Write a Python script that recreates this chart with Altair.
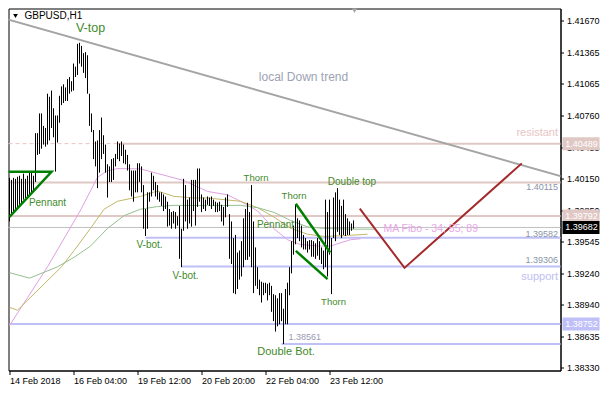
import altair as alt
import pandas as pd

# ---------------- data ----------------
symbol = "GBPUSD,H1"

bar_high = [
    1.4016, 1.4014, 1.4016, 1.4015, 1.4017, 1.4018, 1.4015, 1.4020, 1.4015, 1.4018,
    1.4021, 1.4021, 1.4018, 1.4059, 1.4059, 1.4078, 1.4078, 1.4066, 1.4064, 1.4097,
    1.4094, 1.4100, 1.4083, 1.4076, 1.4076, 1.4095, 1.4104, 1.4106, 1.4103, 1.4111,
    1.4113, 1.4109, 1.4126, 1.4123, 1.4145, 1.4146, 1.4143, 1.4136, 1.4137, 1.4134,
    1.4097, 1.4078, 1.4062, 1.4051, 1.4052, 1.4062, 1.4074, 1.4057, 1.4048, 1.4029,
    1.4027, 1.4034, 1.4035, 1.4039, 1.4051, 1.4049, 1.4051, 1.4048, 1.4043, 1.4038,
    1.4029, 1.4023, 1.4023, 1.4023, 1.4030, 1.4030, 1.4027, 1.4009, 1.3986, 1.4002,
    1.4002, 1.4021, 1.4018, 1.4012, 1.4009, 1.4002, 1.4002, 1.4000, 1.3998, 1.3993,
    1.3986, 1.3983, 1.3984, 1.3983, 1.3979, 1.3989, 1.3967, 1.4015, 1.4009, 1.3995,
    1.3997, 1.4014, 1.4014, 1.4014, 1.4025, 1.4025, 1.4000, 1.3997, 1.3995, 1.3998,
    1.3997, 1.3998, 1.3995, 1.3993, 1.3992, 1.3993, 1.3990, 1.3988, 1.3997, 1.4000,
    1.3981, 1.3974, 1.3958, 1.3961, 1.3944, 1.3946, 1.3955, 1.3977, 1.3986, 1.3992,
    1.3983, 1.4009, 1.3974, 1.3949, 1.3930, 1.3918, 1.3916, 1.3915, 1.3915, 1.3914,
    1.3915, 1.3912, 1.3904, 1.3903, 1.3900, 1.3905, 1.3905, 1.3890, 1.3909, 1.3915,
    1.3930, 1.3955, 1.3970, 1.3990, 1.3977, 1.3975, 1.3970, 1.3961, 1.3958, 1.3955,
    1.3956, 1.3956, 1.3955, 1.3953, 1.3958, 1.3955, 1.3949, 1.3946, 1.3995, 1.3983,
    1.3995, 1.3958, 1.3997, 1.4002, 1.4006, 1.3995, 1.3989, 1.3995, 1.3981, 1.3977,
    1.3974, 1.3972, 1.3975,
]
bar_low = [
    1.3974, 1.3981, 1.3983, 1.3986, 1.3988, 1.3990, 1.3991, 1.3995, 1.3996, 1.3998,
    1.4000, 1.4002, 1.4004, 1.4012, 1.4038, 1.4039, 1.4044, 1.4048, 1.4046, 1.4048,
    1.4052, 1.4064, 1.4055, 1.4022, 1.4050, 1.4069, 1.4086, 1.4088, 1.4090, 1.4090,
    1.4097, 1.4099, 1.4100, 1.4113, 1.4115, 1.4126, 1.4123, 1.4117, 1.4112, 1.4097,
    1.4066, 1.4060, 1.4034, 1.4027, 1.4006, 1.4021, 1.4034, 1.4039, 1.4021, 1.3997,
    1.4012, 1.4012, 1.4014, 1.4027, 1.4034, 1.4032, 1.4037, 1.4030, 1.4029, 1.4023,
    1.4004, 1.3998, 1.3993, 1.4002, 1.4002, 1.4012, 1.4002, 1.3967, 1.3960, 1.3967,
    1.3993, 1.3998, 1.4004, 1.3998, 1.3995, 1.3993, 1.3989, 1.3984, 1.3986, 1.3969,
    1.3970, 1.3967, 1.3972, 1.3967, 1.3970, 1.3938, 1.3930, 1.3965, 1.3974, 1.3967,
    1.3972, 1.3969, 1.3984, 1.3970, 1.3988, 1.3993, 1.3983, 1.3986, 1.3984, 1.3990,
    1.3989, 1.3986, 1.3989, 1.3983, 1.3983, 1.3984, 1.3974, 1.3970, 1.3978, 1.3988,
    1.3938, 1.3933, 1.3905, 1.3904, 1.3909, 1.3918, 1.3921, 1.3930, 1.3937, 1.3937,
    1.3940, 1.3930, 1.3905, 1.3912, 1.3909, 1.3903, 1.3896, 1.3903, 1.3905, 1.3898,
    1.3903, 1.3887, 1.3878, 1.3868, 1.3873, 1.3875, 1.3878, 1.3856, 1.3875, 1.3875,
    1.3903, 1.3924, 1.3942, 1.3952, 1.3958, 1.3955, 1.3949, 1.3947, 1.3947, 1.3944,
    1.3947, 1.3940, 1.3940, 1.3938, 1.3941, 1.3937, 1.3933, 1.3928, 1.3930, 1.3921,
    1.3942, 1.3904, 1.3958, 1.3955, 1.3964, 1.3961, 1.3958, 1.3961, 1.3960, 1.3961,
    1.3961, 1.3965, 1.3967,
]

x_tick_bars = [0, 32, 64, 96, 128, 160]
x_tick_labels = ["14 Feb 2018", "16 Feb 04:00", "19 Feb 12:00",
                 "20 Feb 20:00", "22 Feb 04:00", "23 Feb 12:00"]
y_tick_values = [1.41670, 1.41365, 1.41065, 1.40760, 1.40455, 1.40150,
                 1.39850, 1.39545, 1.39240, 1.38940, 1.38635, 1.38330]

# moving averages 34 / 55 / 89 (bar index, price)
ma34_i = [0, 19, 35, 44, 49, 54, 65.5, 74, 87, 99, 109, 115.5, 124, 132, 139, 145.5, 154, 160.5, 165.5, 170.5, 175.5]
ma34_p = [1.38738, 1.39303, 1.39830, 1.40165, 1.40228, 1.40249, 1.40246, 1.40202, 1.40135, 1.40029, 1.39996,
          1.39934, 1.39842, 1.39673, 1.39564, 1.39518, 1.39503, 1.39503, 1.39534, 1.39564, 1.39574]
ma55_i = [0, 4, 26, 32.3, 40.5, 47.3, 54, 65.5, 74, 82.3, 92.3, 99, 115.5, 124, 132.3, 140.7, 149, 157.3, 169, 179]
ma55_p = [1.38914, 1.38886, 1.39303, 1.39460, 1.39673, 1.39858, 1.39934, 1.39981, 1.40033, 1.39981,
          1.39966, 1.39966, 1.39934, 1.39873, 1.39781, 1.39673, 1.39617, 1.39596, 1.39605, 1.39617]
ma89_i = [0, 10, 24, 32.3, 40.5, 49, 57.3, 65.5, 74, 82.3, 99, 115.5, 124, 132.3, 140.5, 149, 157.3, 169, 182.3]
ma89_p = [1.39247, 1.39194, 1.39303, 1.39395, 1.39503, 1.39673, 1.39796, 1.39858, 1.39883, 1.39895,
          1.39892, 1.39895, 1.39873, 1.39827, 1.39749, 1.39688, 1.39673, 1.39666, 1.39666]

# horizontal levels: price and the bar where each starts
level_price = [1.40489, 1.40115, 1.39792, 1.39582, 1.39306, 1.38752, 1.38561]
level_start = [54, 0, 0, 68, 86, 0, 136]
level_kind = ["res", "res", "res", "sup", "sup", "sup", "sup"]
bid_price = 1.39682

# drawn objects (bar index, price)
trend_i = [-1, 282]
trend_p = [1.41686, 1.40141]
pen1_i = [0, 21, -1]
pen1_p = [1.39784, 1.40218, 1.40218]
pen2u_i = [143.15, 160.35]
pen2u_p = [1.39910, 1.39441]
pen2l_i = [143.15, 159]
pen2l_p = [1.39457, 1.39185]
fc_i = [175.15, 197.5, 256.15]
fc_p = [1.39864, 1.39293, 1.40299]

# ---------------- layout / style ----------------
W, H = 552, 362
X_DOM = [-0.5, 275.5]
Y_DOM = [1.38305, 1.41790]
FONT = "Liberation Sans"
RES_C = "#e0c8c4"
SUP_C = "#c0c0f8"
LBL_C = "#3f8a2a"

xs = alt.Scale(domain=X_DOM, nice=False, zero=False)
ys = alt.Scale(domain=Y_DOM, nice=False, zero=False)

x_expr = "".join(f"datum.value == {v} ? '{t}' : " for v, t in zip(x_tick_bars, x_tick_labels)) + "''"
x_axis = alt.Axis(values=x_tick_bars, labelExpr=x_expr, title=None, grid=False, labelAlign="left",
                  labelFont=FONT, labelFontSize=9, labelColor="black", tickColor="black", tickSize=4,
                  domainColor="black", labelPadding=2, labelFlush=False, labelOverlap=False, zindex=0)
y_axis = alt.Axis(orient="right", values=y_tick_values, format=".5f", title=None, grid=False,
                  labelFont=FONT, labelFontSize=9, labelColor="black", tickColor="black", tickSize=3,
                  domainColor="black", labelPadding=3, labelOverlap=False, labelFlush=False, zindex=0)

X = lambda f: alt.X(f, type="quantitative", scale=xs, axis=x_axis, title=None)
Y = lambda f: alt.Y(f, type="quantitative", scale=ys, axis=y_axis, title=None)

bars = pd.DataFrame({"i": list(range(len(bar_high))), "high": bar_high, "low": bar_low})

# levels
lv = pd.DataFrame({
    "p": level_price,
    "x0": [max(s, X_DOM[0]) for s in level_start],
    "x1": [X_DOM[1]] * len(level_price),
    "c": [RES_C if k == "res" else SUP_C for k in level_kind],
})
levels = alt.Chart(lv).mark_rule(strokeWidth=2).encode(
    x=X("x0"), x2="x1", y=Y("p"), color=alt.Color("c:N", scale=None))
dashed = alt.Chart(pd.DataFrame({"p": [level_price[0]], "x0": [X_DOM[0]], "x1": [level_start[0]]})).mark_rule(
    strokeWidth=1, strokeDash=[4, 3], color="#e8c4c4").encode(x=X("x0"), x2="x1", y=Y("p"))
bid = alt.Chart(pd.DataFrame({"p": [bid_price], "x0": [X_DOM[0]], "x1": [X_DOM[1]]})).mark_rule(
    strokeWidth=1, color="#c0c0c0").encode(x=X("x0"), x2="x1", y=Y("p"))

# moving averages
ma_rows = []
for name, ii, pp, c in [("34", ma34_i, ma34_p, "#e0a0e0"), ("55", ma55_i, ma55_p, "#c0b868"),
                        ("89", ma89_i, ma89_p, "#94c090")]:
    for a, b in zip(ii, pp):
        ma_rows.append({"s": name, "i": a, "p": b, "c": c})
mas = alt.Chart(pd.DataFrame(ma_rows)).mark_line(strokeWidth=1, clip=True).encode(
    x=X("i"), y=Y("p"), color=alt.Color("c:N", scale=None), detail="s:N")

# price bars
bar_layer = alt.Chart(bars).mark_rule(color="black", strokeWidth=1).encode(
    x=X("i"), y=Y("low"), y2="high:Q")

def poly(ii, pp, name):
    return [{"g": name, "k": k, "i": a, "p": b} for k, (a, b) in enumerate(zip(ii, pp))]

trend = alt.Chart(pd.DataFrame(poly(trend_i, trend_p, "t"))).mark_line(
    color="#a4a4a4", strokeWidth=2, clip=True).encode(x=X("i"), y=Y("p"), order="k:Q")
pen_rows = poly(pen1_i, pen1_p, "a") + poly(pen2u_i, pen2u_p, "b") + poly(pen2l_i, pen2l_p, "c")
pennants = alt.Chart(pd.DataFrame(pen_rows)).mark_line(
    color="#008000", strokeWidth=2.5, clip=True).encode(x=X("i"), y=Y("p"), detail="g:N", order="k:Q")
forecast = alt.Chart(pd.DataFrame(poly(fc_i, fc_p, "f"))).mark_line(
    color="#a52a2a", strokeWidth=2, clip=True).encode(x=X("i"), y=Y("p"), order="k:Q")

# annotations
ann_text = ["V-top", "local Down trend", "Pennant", "V-bot.", "V-bot.", "Thorn", "Thorn",
            "Pennant", "Double top", "Thorn", "Double Bot."]
ann_i = [40.5, 147, 19, 70, 88, 123.25, 142.25, 133, 171.25, 162, 138.25]
ann_p = [1.41606, 1.41134, 1.39922, 1.39515, 1.39210, 1.40163, 1.39987, 1.39710, 1.40117, 1.38960, 1.38479]
ann_size = [12.5, 12, 10, 10, 10, 9.5, 9.5, 10, 10, 9.5, 11]
ann_col = [LBL_C, "#9ca2b4"] + [LBL_C] * 9
ann = pd.DataFrame({"t": ann_text, "i": ann_i, "p": ann_p, "s": ann_size, "c": ann_col})
ann_layer = alt.Chart(ann).mark_text(font=FONT, align="center", baseline="middle").encode(
    x=X("i"), y=Y("p"), text="t:N", size=alt.Size("s:Q", scale=None), color=alt.Color("c:N", scale=None))

left_txt = pd.DataFrame({
    "t": ["MA Fibo - 34; 55; 89", f"{level_price[6]:.5f}"],
    "i": [187, 139.5], "p": [1.39663, 1.38627],
    "s": [10.5, 9], "c": ["#e6a6e6", "#9a9ab4"]})
left_layer = alt.Chart(left_txt).mark_text(font=FONT, align="left", baseline="middle").encode(
    x=X("i"), y=Y("p"), text="t:N", size=alt.Size("s:Q", scale=None), color=alt.Color("c:N", scale=None))

xr = X_DOM[1] - 1.25
right_txt = pd.DataFrame({
    "t": ["resistant", "support", f"{level_price[1]:.5f}", f"{level_price[3]:.5f}", f"{level_price[4]:.5f}"],
    "i": [xr] * 5, "p": [1.40588, 1.39201, 1.40070, 1.39617, 1.39367],
    "s": [11, 11, 9, 9, 9], "c": ["#e8c4c4", "#c0c0f0", "#8894a8", "#8894a8", "#8894a8"]})
right_layer = alt.Chart(right_txt).mark_text(font=FONT, align="right", baseline="middle").encode(
    x=X("i"), y=Y("p"), text="t:N", size=alt.Size("s:Q", scale=None), color=alt.Color("c:N", scale=None))

# price boxes on the axis
box = pd.DataFrame({
    "p": [level_price[0], level_price[2], bid_price, level_price[5]],
    "t": [f"{v:.5f}" for v in [level_price[0], level_price[2], bid_price, level_price[5]]],
    "c": [RES_C, RES_C, "#000000", SUP_C]})
box_bg = alt.Chart(box).mark_rule(strokeWidth=13).encode(
    x=alt.value(W + 2), x2=alt.value(W + 39), y=Y("p"), color=alt.Color("c:N", scale=None))
box_tx = alt.Chart(box).mark_text(font=FONT, fontSize=9, color="white", align="center", baseline="middle").encode(
    x=alt.value(W + 21), y=Y("p"), text="t:N")

# title and shift marker
title_df = pd.DataFrame({"t": [symbol], "i": [7.5], "p": [1.41717]})
title = alt.Chart(title_df).mark_text(font=FONT, fontSize=10, color="black", align="left", baseline="middle").encode(
    x=X("i"), y=Y("p"), text="t:N")
tri = alt.Chart(pd.DataFrame({"i": [3.0], "p": [1.41717]})).mark_point(
    shape="triangle-down", filled=True, size=22, color="black", opacity=1).encode(x=X("i"), y=Y("p"))
shift = alt.Chart(pd.DataFrame({"i": [172.5], "p": [1.41768]})).mark_point(
    shape="triangle-down", filled=True, size=28, color="#a8a8a8", opacity=1).encode(x=X("i"), y=Y("p"))

chart = alt.layer(
    dashed, levels, bid, mas, bar_layer, trend, pennants, forecast,
    ann_layer, left_layer, right_layer, box_bg, box_tx, title, tri, shift
).properties(
    width=W, height=H, background="white",
    autosize=alt.AutoSizeParams(type="none"),
    padding={"left": 0.5, "top": 0.5, "right": 41.5, "bottom": 17.5},
).configure_view(stroke="black", strokeWidth=1)

chart.save("out.html", embed_options={"renderer": "svg", "actions": False})
